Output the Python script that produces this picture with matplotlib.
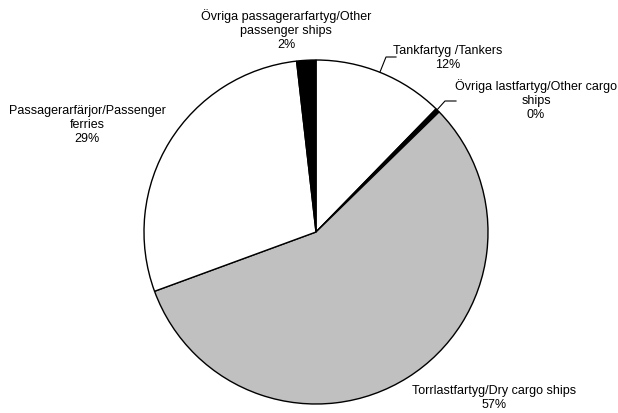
import matplotlib
matplotlib.use("Agg")
import matplotlib.pyplot as plt

categories = [
    "Tankfartyg /Tankers",
    "Övriga lastfartyg/Other cargo\nships",
    "Torrlastfartyg/Dry cargo ships",
    "Passagerarfärjor/Passenger\nferries",
    "Övriga passagerarfartyg/Other\npassenger ships",
]
values = [12.3, 0.4, 56.7, 28.8, 1.8]
pct_labels = ["12%", "0%", "57%", "29%", "2%"]
colors = ["#ffffff", "#000000", "#c0c0c0", "#ffffff", "#000000"]

W, H = 618, 413
fig = plt.figure(figsize=(W / 100, H / 100), dpi=100)
ax = fig.add_axes([0, 0, 1, 1])
ax.set_xlim(0, W)
ax.set_ylim(0, H)
ax.axis("off")

cx, cy, r = 316, H - 232, 172
ax.pie(values, colors=colors, startangle=90, counterclock=False,
       center=(cx, cy), radius=r, frame=True,
       wedgeprops=dict(edgecolor="black", linewidth=1.0))
ax.set_xlim(0, W)
ax.set_ylim(0, H)
ax.set_aspect("equal")
ax.axis("off")

font = dict(family=["Liberation Sans", "DejaVu Sans"], size=9, color="black")
label_pos = [(448, H - 58), (536, H - 100), (494, H - 398), (87, H - 125), (286, H - 30)]
for lab, pct, (x, y) in zip(categories, pct_labels, label_pos):
    ax.text(x, y, lab + "\n" + pct, ha="center", va="center", linespacing=1.2, **font)

# leader lines
ax.plot([380, 386, 396], [H - 72, H - 57, H - 57], color="black", lw=0.8)
ax.plot([436, 445, 456], [H - 111, H - 101, H - 101], color="black", lw=0.8)

fig.savefig("out.png", dpi=100)
